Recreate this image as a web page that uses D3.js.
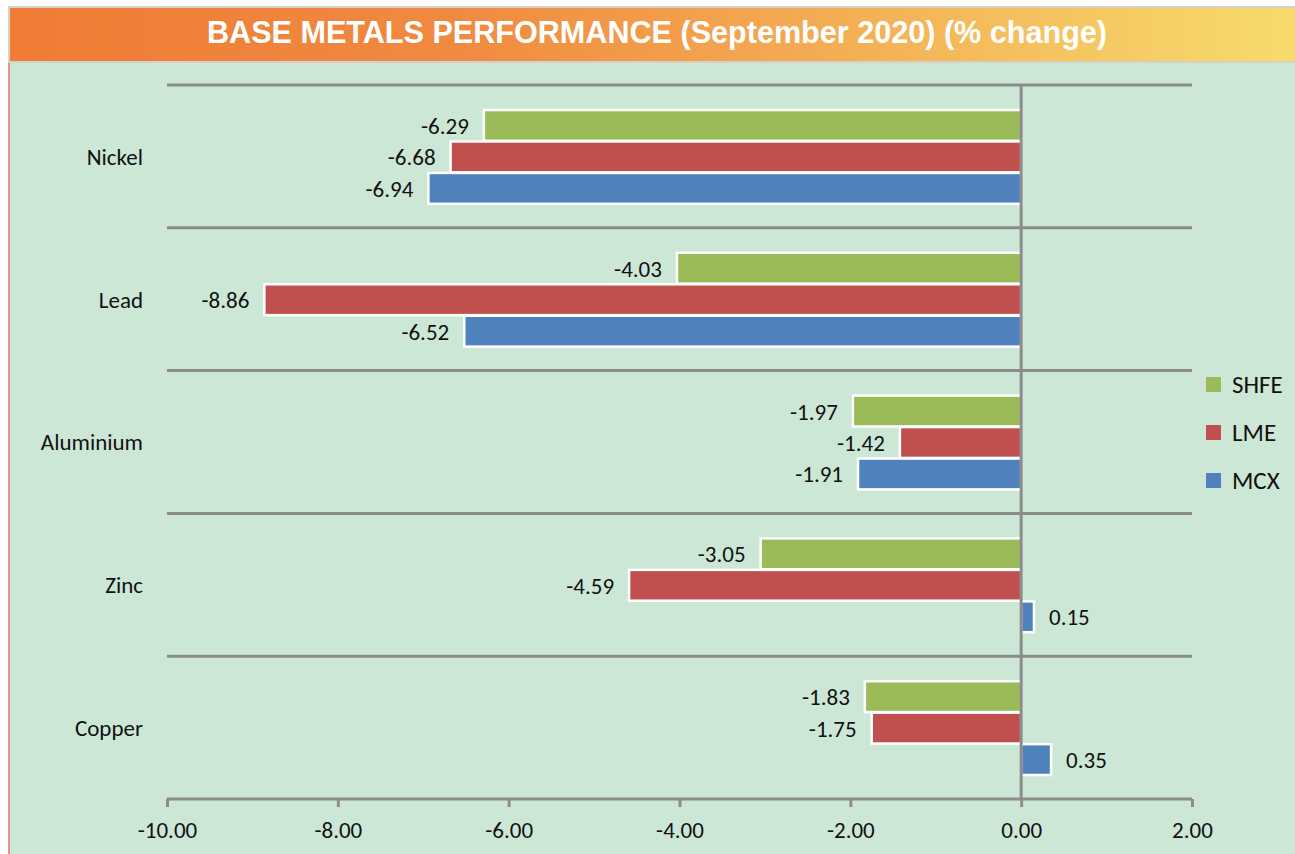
<!DOCTYPE html>
<html>
  <head>
    <script src="https://d3js.org/d3.v7.min.js" charset="utf-8"></script>
    <meta charset="UTF-8">
    <title>base metals performance</title>
    <style>
      body { margin: 0; background: #fff; }
      text { font-family: Carlito, "Noto Sans", sans-serif; fill: #111; }
    </style>
  </head>
  <body>
    <svg class="chart"></svg>
    <script type="text/javascript">

     var width = 1295,
         height = 854;

     var metals = ["Nickel", "Lead", "Aluminium", "Zinc", "Copper"];
     var series = ["SHFE", "LME", "MCX"];
     var colors = ["#9bbb59", "#c0504d", "#4f81bd"];
     var shfe = [-6.29, -4.03, -1.97, -3.05, -1.83];
     var lme = [-6.68, -8.86, -1.42, -4.59, -1.75];
     var mcx = [-6.94, -6.52, -1.91, 0.15, 0.35];
     var ticks = [-10, -8, -6, -4, -2, 0, 2];

     var values = [shfe, lme, mcx];
     var bars = [];
     metals.forEach(function(m, i) {
         series.forEach(function(s, j) {
             bars.push({"metal": m, "series": s, "idx": j, "value": values[j][i]});
         });
     });

     var chart = d3.select(".chart")
                   .attr("width", width)
                   .attr("height", height);

     // title band
     var grad = chart.append("defs").append("linearGradient")
                     .attr("id", "tg").attr("x1", "0").attr("x2", "1");
     grad.append("stop").attr("offset", "0").attr("stop-color", "#f07c36");
     grad.append("stop").attr("offset", "0.35").attr("stop-color", "#f08a40");
     grad.append("stop").attr("offset", "0.7").attr("stop-color", "#f4b558");
     grad.append("stop").attr("offset", "1").attr("stop-color", "#f7dc6c");

     chart.append("rect")
          .attr("x", 9).attr("y", 63).attr("width", width - 9).attr("height", height - 63)
          .attr("fill", "#cde7d6");
     chart.append("line")
          .attr("x1", 9).attr("x2", 9).attr("y1", 62).attr("y2", height)
          .attr("stroke", "#e07070").attr("stroke-width", 1.5);
     chart.append("rect")
          .attr("x", 9).attr("y", 7).attr("width", width - 8).attr("height", 55)
          .attr("fill", "url(#tg)")
          .attr("stroke", "#d4d2c8").attr("stroke-width", 2);
     chart.append("text")
          .attr("x", 657).attr("y", 35)
          .attr("text-anchor", "middle").attr("dominant-baseline", "middle")
          .attr("textLength", 900).attr("lengthAdjust", "spacingAndGlyphs")
          .style("font-family", "'Liberation Sans Narrow', 'Arial Narrow', 'Liberation Sans', sans-serif")
          .style("font-weight", "bold").style("font-size", "32px").style("fill", "#fff")
          .text("BASE METALS PERFORMANCE (September 2020) (% change)");

     // scales
     var xScale = d3.scaleLinear().domain([-10, 2]).range([167, 1192]);
     var yScale = d3.scaleBand().domain(metals).range([85, 799]);
     var sScale = d3.scaleBand().domain(series)
                    .range([25, yScale.bandwidth() - 24]).paddingInner(0.02);

     // category separators
     chart.append("g").selectAll("line")
          .data(metals)
          .enter().append("line")
          .attr("x1", xScale(-10)).attr("x2", xScale(2))
          .attr("y1", function(d) { return yScale(d); })
          .attr("y2", function(d) { return yScale(d); })
          .attr("stroke", "#8c8c8c").attr("stroke-width", 3);

     // bars
     chart.append("g").selectAll("rect")
          .data(bars)
          .enter().append("rect")
          .attr("x", function(d) { return xScale(Math.min(0, d.value)); })
          .attr("y", function(d) { return yScale(d.metal) + sScale(d.series); })
          .attr("width", function(d) { return Math.abs(xScale(d.value) - xScale(0)); })
          .attr("height", sScale.bandwidth())
          .attr("fill", function(d) { return colors[d.idx]; })
          .attr("stroke", "#fff").attr("stroke-width", 2.5);

     // zero line
     chart.append("line")
          .attr("x1", xScale(0)).attr("x2", xScale(0))
          .attr("y1", 85).attr("y2", 799)
          .attr("stroke", "#8c8c8c").attr("stroke-width", 3);

     // bar labels
     chart.append("g").selectAll("text")
          .data(bars)
          .enter().append("text")
          .attr("x", function(d) { return d.value < 0 ? xScale(d.value) - 15 : xScale(d.value) + 15; })
          .attr("y", function(d) { return yScale(d.metal) + sScale(d.series) + sScale.bandwidth() / 2 + 3; })
          .attr("text-anchor", function(d) { return d.value < 0 ? "end" : "start"; })
          .attr("dominant-baseline", "middle")
          .style("font-size", "23px")
          .text(function(d) { return d.value.toFixed(2); });

     // category labels
     chart.append("g").selectAll("text")
          .data(metals)
          .enter().append("text")
          .attr("x", 143)
          .attr("y", function(d) { return yScale(d) + yScale.bandwidth() / 2 + 3; })
          .attr("text-anchor", "end").attr("dominant-baseline", "middle")
          .style("font-size", "23px")
          .text(function(d) { return d; });

     // x axis
     var axis = chart.append("g").attr("transform", "translate(0,799)")
                     .call(d3.axisBottom(xScale).tickValues(ticks)
                             .tickSize(8).tickPadding(15)
                             .tickFormat(function(d) { return d.toFixed(2); }));
     axis.attr("font-family", null).attr("font-size", null);
     axis.select(".domain").attr("stroke", "#8c8c8c").attr("stroke-width", 3)
         .attr("d", "M" + xScale(-10) + ",0H" + xScale(2));
     axis.selectAll(".tick line").attr("stroke", "#8c8c8c").attr("stroke-width", 3);
     axis.selectAll(".tick text").style("font-size", "23px").attr("fill", "#111");

     // legend
     var legend = chart.append("g").selectAll("g")
                       .data(series)
                       .enter().append("g")
                       .attr("transform", function(d, i) { return "translate(1206," + (377 + i * 48) + ")"; });
     legend.append("rect").attr("width", 15).attr("height", 15)
           .attr("fill", function(d, i) { return colors[i]; });
     legend.append("text").attr("x", 26).attr("y", 10)
           .attr("dominant-baseline", "middle")
           .style("font-size", "25px")
           .text(function(d) { return d; });

    </script>
  </body>
</html>
